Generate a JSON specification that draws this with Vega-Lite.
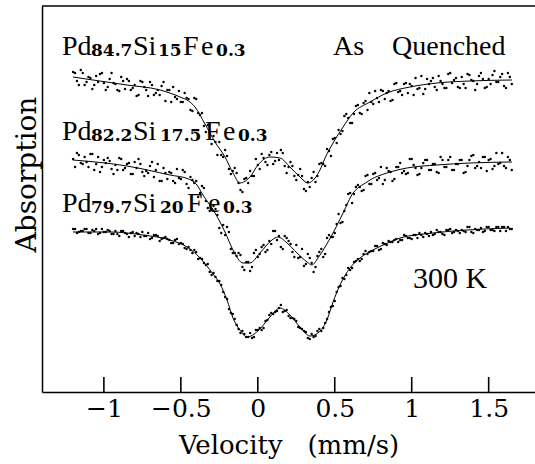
{
 "$schema": "https://vega.github.io/schema/vega-lite/v6.json",
 "width": 493, "height": 386,
 "autosize": {"type": "none"},
 "padding": {"left": 42, "top": 6, "right": 0, "bottom": 72},
 "background": "white",
 "config": {"view": {"stroke": null}},
 "datasets": {
  "pts": [
{"v":-1.2,"A":320,"B":233,"C":163},{"v":-1.175,"A":311,"B":239,"C":159},{"v":-1.15,"A":322,"B":229,"C":161},{"v":-1.125,"A":307,"B":235,"C":163},{"v":-1.1,"A":315,"B":225,"C":159},
{"v":-1.075,"A":303,"B":238,"C":162},{"v":-1.05,"A":316,"B":228,"C":163},{"v":-1.025,"A":318,"B":220,"C":159},{"v":-1.0,"A":309,"B":232,"C":160},{"v":-0.975,"A":305,"B":234,"C":162},
{"v":-0.95,"A":319,"B":223,"C":158},{"v":-0.925,"A":308,"B":227,"C":161},{"v":-0.9,"A":301,"B":234,"C":156},{"v":-0.875,"A":311,"B":222,"C":161},{"v":-0.85,"A":313,"B":228,"C":158},
{"v":-0.825,"A":302,"B":218,"C":159},{"v":-0.8,"A":307,"B":230,"C":156},{"v":-0.775,"A":297,"B":233,"C":158},{"v":-0.75,"A":310,"B":220,"C":160},{"v":-0.725,"A":302,"B":221,"C":156},
{"v":-0.7,"A":310,"B":226,"C":153},{"v":-0.675,"A":297,"B":215,"C":157},{"v":-0.65,"A":302,"B":228,"C":156},{"v":-0.625,"A":306,"B":211,"C":153},{"v":-0.6,"A":291,"B":219,"C":155},
{"v":-0.575,"A":302,"B":220,"C":152},{"v":-0.55,"A":305,"B":211,"C":149},{"v":-0.525,"A":293,"B":223,"C":153},{"v":-0.5,"A":290,"B":213,"C":149},{"v":-0.475,"A":299,"B":220,"C":144},
{"v":-0.45,"A":293,"B":204,"C":145},{"v":-0.425,"A":281,"B":212,"C":139},{"v":-0.4,"A":293,"B":211,"C":140},{"v":-0.375,"A":277,"B":199,"C":134},{"v":-0.35,"A":266,"B":204,"C":129},
{"v":-0.325,"A":267,"B":184,"C":128},{"v":-0.3,"A":248,"B":183,"C":117},{"v":-0.275,"A":250,"B":183,"C":115},{"v":-0.25,"A":250,"B":164,"C":111},{"v":-0.225,"A":235,"B":167,"C":100},
{"v":-0.2,"A":236,"B":165,"C":93},{"v":-0.175,"A":218,"B":143,"C":79},{"v":-0.15,"A":224,"B":139,"C":73},{"v":-0.125,"A":209,"B":139,"C":63},{"v":-0.1,"A":200,"B":125,"C":61},
{"v":-0.075,"A":214,"B":130,"C":55},{"v":-0.05,"A":221,"B":121,"C":59},{"v":-0.025,"A":216,"B":139,"C":55},{"v":0.0,"A":227,"B":135,"C":62},{"v":0.025,"A":238,"B":145,"C":62},
{"v":0.05,"A":230,"B":140,"C":71},{"v":0.075,"A":237,"B":151,"C":77},{"v":0.1,"A":228,"B":161,"C":78},{"v":0.125,"A":239,"B":152,"C":81},{"v":0.15,"A":242,"B":145,"C":87},
{"v":0.175,"A":226,"B":156,"C":81},{"v":0.2,"A":225,"B":151,"C":76},{"v":0.225,"A":226,"B":140,"C":74},{"v":0.25,"A":212,"B":147,"C":71},{"v":0.275,"A":223,"B":135,"C":64},
{"v":0.3,"A":203,"B":126,"C":61},{"v":0.325,"A":210,"B":138,"C":54},{"v":0.35,"A":214,"B":129,"C":58},{"v":0.375,"A":210,"B":125,"C":56},{"v":0.4,"A":228,"B":140,"C":63},
{"v":0.425,"A":228,"B":135,"C":64},{"v":0.45,"A":243,"B":154,"C":73},{"v":0.475,"A":236,"B":155,"C":85},{"v":0.5,"A":254,"B":159,"C":91},{"v":0.525,"A":262,"B":178,"C":105},
{"v":0.55,"A":261,"B":170,"C":114},{"v":0.575,"A":278,"B":187,"C":117},{"v":0.6,"A":269,"B":199,"C":122},{"v":0.625,"A":278,"B":198,"C":130},{"v":0.65,"A":287,"B":207,"C":133},
{"v":0.675,"A":278,"B":201,"C":133},{"v":0.7,"A":291,"B":216,"C":141},{"v":0.725,"A":299,"B":208,"C":140},{"v":0.75,"A":288,"B":218,"C":141},{"v":0.775,"A":294,"B":212,"C":146},
{"v":0.8,"A":302,"B":225,"C":143},{"v":0.825,"A":293,"B":212,"C":148},{"v":0.85,"A":301,"B":221,"C":151},{"v":0.875,"A":292,"B":211,"C":150},{"v":0.9,"A":309,"B":225,"C":153},
{"v":0.925,"A":301,"B":229,"C":152},{"v":0.95,"A":308,"B":221,"C":157},{"v":0.975,"A":299,"B":219,"C":154},{"v":1.0,"A":306,"B":233,"C":153},{"v":1.025,"A":314,"B":224,"C":157},
{"v":1.05,"A":304,"B":218,"C":159},{"v":1.075,"A":298,"B":229,"C":155},{"v":1.1,"A":313,"B":232,"C":158},{"v":1.125,"A":311,"B":222,"C":160},{"v":1.15,"A":305,"B":228,"C":158},
{"v":1.175,"A":316,"B":219,"C":160},{"v":1.2,"A":308,"B":232,"C":158},{"v":1.225,"A":304,"B":225,"C":162},{"v":1.25,"A":319,"B":235,"C":163},{"v":1.275,"A":312,"B":222,"C":160},
{"v":1.3,"A":305,"B":228,"C":161},{"v":1.325,"A":315,"B":232,"C":162},{"v":1.35,"A":304,"B":220,"C":160},{"v":1.375,"A":317,"B":232,"C":165},{"v":1.4,"A":311,"B":237,"C":159},
{"v":1.425,"A":308,"B":226,"C":162},{"v":1.45,"A":319,"B":224,"C":164},{"v":1.475,"A":304,"B":235,"C":161},{"v":1.5,"A":313,"B":232,"C":165},{"v":1.525,"A":317,"B":223,"C":162},
{"v":1.55,"A":310,"B":239,"C":165},{"v":1.575,"A":315,"B":229,"C":161},{"v":1.6,"A":306,"B":226,"C":165},{"v":1.625,"A":319,"B":235,"C":165},{"v":1.65,"A":308,"B":222,"C":163},
{"v":-1.1875,"A":319,"B":225,"C":163},{"v":-1.1625,"A":307,"B":237,"C":160},{"v":-1.1375,"A":319,"B":228,"C":161},{"v":-1.1125,"A":310,"B":230,"C":163},{"v":-1.0875,"A":314,"B":238,"C":159},
{"v":-1.0625,"A":307,"B":222,"C":161},{"v":-1.0375,"A":310,"B":235,"C":158},{"v":-1.0125,"A":319,"B":225,"C":163},{"v":-0.9875,"A":302,"B":229,"C":160},{"v":-0.9625,"A":313,"B":231,"C":161},
{"v":-0.9375,"A":309,"B":218,"C":158},{"v":-0.9125,"A":302,"B":222,"C":158},{"v":-0.8875,"A":315,"B":233,"C":161},{"v":-0.8625,"A":303,"B":224,"C":159},{"v":-0.8375,"A":311,"B":229,"C":155},
{"v":-0.8125,"A":304,"B":218,"C":160},{"v":-0.7875,"A":296,"B":224,"C":159},{"v":-0.7625,"A":311,"B":228,"C":155},{"v":-0.7375,"A":305,"B":216,"C":156},{"v":-0.7125,"A":296,"B":219,"C":159},
{"v":-0.6875,"A":307,"B":230,"C":154},{"v":-0.6625,"A":299,"B":222,"C":157},{"v":-0.6375,"A":297,"B":211,"C":151},{"v":-0.6125,"A":310,"B":224,"C":154},{"v":-0.5875,"A":302,"B":213,"C":153},
{"v":-0.5625,"A":290,"B":219,"C":149},{"v":-0.5375,"A":295,"B":209,"C":152},{"v":-0.5125,"A":301,"B":214,"C":148},{"v":-0.4875,"A":290,"B":222,"C":148},{"v":-0.4625,"A":294,"B":208,"C":143},
{"v":-0.4375,"A":282,"B":215,"C":142},{"v":-0.4125,"A":294,"B":209,"C":142},{"v":-0.3875,"A":279,"B":195,"C":133},{"v":-0.3625,"A":279,"B":206,"C":133},{"v":-0.3375,"A":260,"B":191,"C":127},
{"v":-0.3125,"A":259,"B":181,"C":120},{"v":-0.2875,"A":256,"B":186,"C":119},{"v":-0.2625,"A":237,"B":177,"C":111},{"v":-0.2375,"A":237,"B":159,"C":107},{"v":-0.2125,"A":242,"B":157,"C":95},
{"v":-0.1875,"A":223,"B":160,"C":83},{"v":-0.1625,"A":221,"B":139,"C":78},{"v":-0.1375,"A":219,"B":136,"C":67},{"v":-0.1125,"A":202,"B":137,"C":59},{"v":-0.0875,"A":213,"B":122,"C":58},
{"v":-0.0625,"A":209,"B":130,"C":55},{"v":-0.0375,"A":216,"B":125,"C":54},{"v":-0.0125,"A":233,"B":142,"C":62},{"v":0.0125,"A":223,"B":138,"C":64},{"v":0.0375,"A":234,"B":147,"C":64},
{"v":0.0625,"A":227,"B":142,"C":72},{"v":0.0875,"A":240,"B":148,"C":79},{"v":0.1125,"A":231,"B":161,"C":80},{"v":0.1375,"A":232,"B":156,"C":84},{"v":0.1625,"A":239,"B":143,"C":80},
{"v":0.1875,"A":219,"B":154,"C":82},{"v":0.2125,"A":230,"B":148,"C":74},{"v":0.2375,"A":216,"B":135,"C":73},{"v":0.2625,"A":217,"B":134,"C":65},{"v":0.2875,"A":216,"B":143,"C":63},
{"v":0.3125,"A":201,"B":128,"C":60},{"v":0.3375,"A":205,"B":134,"C":53},{"v":0.3625,"A":220,"B":120,"C":55},{"v":0.3875,"A":216,"B":136,"C":61},{"v":0.4125,"A":229,"B":143,"C":61},
{"v":0.4375,"A":226,"B":138,"C":69},{"v":0.4625,"A":241,"B":157,"C":80},{"v":0.4875,"A":253,"B":155,"C":86},{"v":0.5125,"A":249,"B":168,"C":100},{"v":0.5375,"A":258,"B":169,"C":106},
{"v":0.5625,"A":276,"B":181,"C":113},{"v":0.5875,"A":274,"B":198,"C":124},{"v":0.6125,"A":269,"B":189,"C":124},{"v":0.6375,"A":286,"B":205,"C":131},{"v":0.6625,"A":279,"B":205,"C":131},
{"v":0.6875,"A":289,"B":202,"C":138},{"v":0.7125,"A":282,"B":217,"C":138},{"v":0.7375,"A":290,"B":208,"C":141},{"v":0.7625,"A":301,"B":219,"C":146},{"v":0.7875,"A":290,"B":214,"C":142},
{"v":0.8125,"A":301,"B":208,"C":149},{"v":0.8375,"A":299,"B":224,"C":147},{"v":0.8625,"A":291,"B":220,"C":150},{"v":0.8875,"A":308,"B":213,"C":152},{"v":0.9125,"A":300,"B":225,"C":150},
{"v":0.9375,"A":297,"B":219,"C":152},{"v":0.9625,"A":309,"B":218,"C":156},{"v":0.9875,"A":308,"B":233,"C":154},{"v":1.0125,"A":297,"B":227,"C":157},{"v":1.0375,"A":303,"B":217,"C":154},
{"v":1.0625,"A":316,"B":224,"C":157},{"v":1.0875,"A":303,"B":232,"C":159},{"v":1.1125,"A":308,"B":222,"C":156},{"v":1.1375,"A":314,"B":228,"C":157},{"v":1.1625,"A":302,"B":220,"C":162},
{"v":1.1875,"A":311,"B":235,"C":160},{"v":1.2125,"A":304,"B":225,"C":157},{"v":1.2375,"A":318,"B":232,"C":162},{"v":1.2625,"A":309,"B":222,"C":159},{"v":1.2875,"A":314,"B":228,"C":162},
{"v":1.3125,"A":304,"B":232,"C":159},{"v":1.3375,"A":308,"B":219,"C":161},{"v":1.3625,"A":318,"B":226,"C":165},{"v":1.3875,"A":312,"B":236,"C":160},{"v":1.4125,"A":302,"B":224,"C":163},
{"v":1.4375,"A":316,"B":230,"C":162},{"v":1.4625,"A":313,"B":235,"C":160},{"v":1.4875,"A":305,"B":221,"C":165},{"v":1.5125,"A":308,"B":233,"C":162},{"v":1.5375,"A":321,"B":226,"C":161},
{"v":1.5625,"A":310,"B":228,"C":165},{"v":1.5875,"A":318,"B":239,"C":165},{"v":1.6125,"A":304,"B":224,"C":161},{"v":1.6375,"A":315,"B":232,"C":163}
  ],
  "fit": [
{"s":"A","v":-1.201,"y":315},{"s":"A","v":-1.071,"y":312},{"s":"A","v":-0.85,"y":307},{"s":"A","v":-0.635,"y":302},{"s":"A","v":-0.505,"y":295},{"s":"A","v":-0.45,"y":291},{"s":"A","v":-0.408,"y":285},{"s":"A","v":-0.343,"y":268},{"s":"A","v":-0.278,"y":250},{"s":"A","v":-0.213,"y":235},{"s":"A","v":-0.161,"y":219},{"s":"A","v":-0.116,"y":209},{"s":"A","v":-0.051,"y":215},{"s":"A","v":0.001,"y":227},{"s":"A","v":0.079,"y":235},{"s":"A","v":0.144,"y":234},{"s":"A","v":0.209,"y":225},{"s":"A","v":0.274,"y":215},{"s":"A","v":0.326,"y":209},{"s":"A","v":0.372,"y":214},{"s":"A","v":0.404,"y":222},{"s":"A","v":0.437,"y":234},{"s":"A","v":0.489,"y":249},{"s":"A","v":0.554,"y":265},{"s":"A","v":0.619,"y":279},{"s":"A","v":0.729,"y":290},{"s":"A","v":0.839,"y":299},{"s":"A","v":0.989,"y":305},{"s":"A","v":1.164,"y":309},{"s":"A","v":1.378,"y":311},{"s":"A","v":1.651,"y":312},
{"s":"B","v":-1.201,"y":232},{"s":"B","v":-0.85,"y":226},{"s":"B","v":-0.57,"y":217},{"s":"B","v":-0.45,"y":213},{"s":"B","v":-0.4,"y":208},{"s":"B","v":-0.356,"y":197},{"s":"B","v":-0.278,"y":179},{"s":"B","v":-0.213,"y":160},{"s":"B","v":-0.161,"y":142},{"s":"B","v":-0.096,"y":129},{"s":"B","v":-0.051,"y":129},{"s":"B","v":0.014,"y":139},{"s":"B","v":0.092,"y":152},{"s":"B","v":0.131,"y":155},{"s":"B","v":0.19,"y":149},{"s":"B","v":0.255,"y":139},{"s":"B","v":0.32,"y":130},{"s":"B","v":0.352,"y":127},{"s":"B","v":0.391,"y":134},{"s":"B","v":0.437,"y":145},{"s":"B","v":0.489,"y":159},{"s":"B","v":0.554,"y":179},{"s":"B","v":0.619,"y":199},{"s":"B","v":0.65,"y":204},{"s":"B","v":0.7,"y":209},{"s":"B","v":0.729,"y":212},{"s":"B","v":0.839,"y":219},{"s":"B","v":0.969,"y":224},{"s":"B","v":1.164,"y":227},{"s":"B","v":1.378,"y":229},{"s":"B","v":1.651,"y":230},
{"s":"C","v":-1.201,"y":160},{"s":"C","v":-0.96,"y":160},{"s":"C","v":-0.746,"y":157},{"s":"C","v":-0.57,"y":152},{"s":"C","v":-0.46,"y":145},{"s":"C","v":-0.375,"y":134},{"s":"C","v":-0.291,"y":118},{"s":"C","v":-0.245,"y":108},{"s":"C","v":-0.2,"y":92},{"s":"C","v":-0.161,"y":74},{"s":"C","v":-0.116,"y":62},{"s":"C","v":-0.07,"y":55},{"s":"C","v":0.001,"y":61},{"s":"C","v":0.079,"y":75},{"s":"C","v":0.144,"y":84},{"s":"C","v":0.209,"y":77},{"s":"C","v":0.274,"y":65},{"s":"C","v":0.339,"y":56},{"s":"C","v":0.391,"y":59},{"s":"C","v":0.449,"y":72},{"s":"C","v":0.489,"y":90},{"s":"C","v":0.534,"y":107},{"s":"C","v":0.599,"y":124},{"s":"C","v":0.664,"y":134},{"s":"C","v":0.748,"y":142},{"s":"C","v":0.859,"y":150},{"s":"C","v":0.924,"y":154},{"s":"C","v":1.138,"y":159},{"s":"C","v":1.359,"y":162},{"s":"C","v":1.638,"y":164}
  ],
  "main": [
{"t":"Pd","v":-1.272,"y":337},{"t":"Si","v":-0.811,"y":337},{"t":"F","v":-0.486,"y":337},{"t":"e","v":-0.369,"y":337},
{"t":"Pd","v":-1.272,"y":252},{"t":"Si","v":-0.811,"y":252},{"t":"F","v":-0.3431,"y":252},{"t":"e","v":-0.2261,"y":252},
{"t":"Pd","v":-1.272,"y":180},{"t":"Si","v":-0.811,"y":180},{"t":"F","v":-0.46,"y":180},{"t":"e","v":-0.3236,"y":180},
{"t":"As","v":0.4886,"y":337},{"t":"Quenched","v":0.872,"y":337}
  ],
  "sub": [
{"t":"84.7","v":-1.0838,"y":336},{"t":"15","v":-0.649,"y":336},{"t":"0.3","v":-0.271,"y":336},
{"t":"82.2","v":-1.0838,"y":251},{"t":"17.5","v":-0.6355,"y":251},{"t":"0.3","v":-0.1287,"y":251},
{"t":"79.7","v":-1.0838,"y":179},{"t":"20","v":-0.6355,"y":179},{"t":"0.3","v":-0.2261,"y":179}
  ],
  "temp": [{"t":"300 K","v":1.008,"y":104}],
  "frame": [{"v":-1.402,"v2":1.801,"y":386}],
  "tk": [{"v":-1,"y":0,"y2":15},{"v":-0.5,"y":0,"y2":15},{"v":0,"y":0,"y2":15},{"v":0.5,"y":0,"y2":15},{"v":1,"y":0,"y2":15},{"v":1.5,"y":0,"y2":15}]
 },
 "encoding": {
  "x": {"field": "v", "type": "quantitative",
   "scale": {"domain": [-1.402, 1.801], "nice": false, "zero": false},
   "axis": {"title": "Velocity\u00a0\u00a0\u00a0(mm/s)", "values": [-1, -0.5, 0, 0.5, 1, 1.5], "format": "~g",
    "grid": false, "labelFont": "DejaVu Serif", "labelFontSize": 25, "labelColor": "black",
    "labelPadding": 18, "labelFlush": false, "labelOverlap": false,
    "tickColor": "black", "tickOpacity": 0, "tickSize": -14, "tickWidth": 1.5,
    "domainColor": "black", "domainWidth": 1.5,
    "titleFont": "DejaVu Serif", "titleFontSize": 26, "titleFontWeight": "normal", "titleColor": "black",
    "titleBaseline": "alphabetic", "titleY": 61}},
  "y": {"field": "y", "type": "quantitative",
   "scale": {"domain": [0, 386], "nice": false, "zero": false},
   "axis": {"title": "Absorption", "ticks": false, "labels": false, "grid": false,
    "domainColor": "black", "domainWidth": 1.5,
    "titleFont": "DejaVu Serif", "titleFontSize": 28, "titleFontWeight": "normal", "titleColor": "black",
    "titleX": -7, "titleY": 168, "titleBaseline": "alphabetic", "titleAngle": 270, "titleAlign": "center"}}
 },
 "layer": [
  {"data": {"name": "frame"}, "mark": {"type": "rule", "color": "black", "strokeWidth": 1.5},
   "encoding": {"x2": {"field": "v2"}}},
  {"data": {"name": "tk"}, "mark": {"type": "rule", "color": "black", "strokeWidth": 1.6},
   "encoding": {"y2": {"field": "y2"}}},
  {"data": {"name": "fit"}, "mark": {"type": "line", "color": "black", "strokeWidth": 1, "interpolate": "monotone"},
   "encoding": {"detail": {"field": "s"}}},
  {"data": {"name": "pts"}, "transform": [{"fold": ["A", "B", "C"], "as": ["s", "y"]}],
   "mark": {"type": "circle", "color": "black", "size": 6, "opacity": 1}},
  {"data": {"name": "main"}, "mark": {"type": "text", "font": "Liberation Serif", "fontSize": 28, "align": "left", "baseline": "alphabetic", "color": "black"},
   "encoding": {"text": {"field": "t"}}},
  {"data": {"name": "sub"}, "mark": {"type": "text", "font": "DejaVu Serif", "fontSize": 17, "fontWeight": "bold", "align": "left", "baseline": "alphabetic", "color": "black"},
   "encoding": {"text": {"field": "t"}}},
  {"data": {"name": "temp"}, "mark": {"type": "text", "font": "Liberation Serif", "fontSize": 30, "align": "left", "baseline": "alphabetic", "color": "black"},
   "encoding": {"text": {"field": "t"}}}
 ]
}
